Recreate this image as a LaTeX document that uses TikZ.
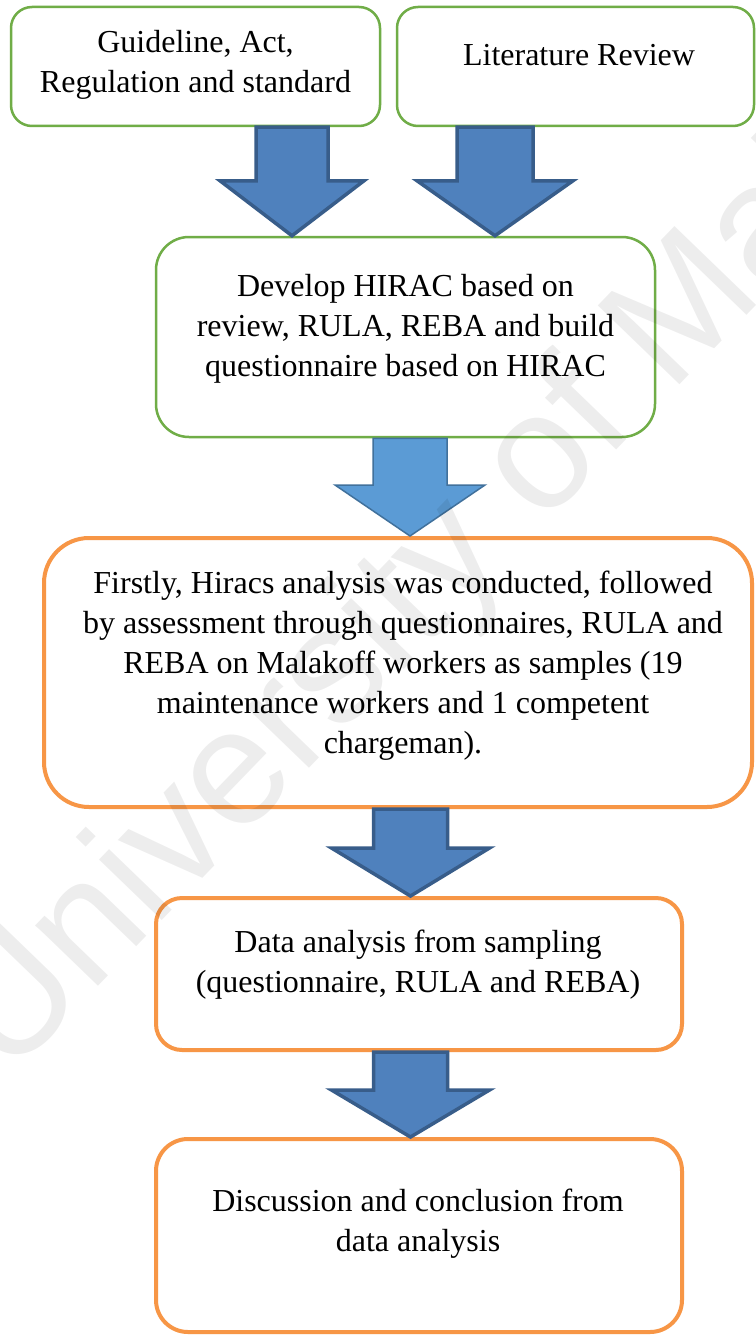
\documentclass[tikz,border=0pt]{standalone}
\usepackage{fontspec}
\setmainfont{Liberation Serif}
\newfontfamily\wmfont{Liberation Sans}
\usetikzlibrary{calc}

\definecolor{boxgreen}{HTML}{70AD47}
\definecolor{boxorange}{HTML}{F79646}
\definecolor{arrowfill}{HTML}{4F81BD}
\definecolor{arrowline}{HTML}{385D8A}
\definecolor{arrowfilllight}{HTML}{5B9BD5}
\definecolor{arrowlinelight}{HTML}{41719C}

% block arrow: #1 style, #2 top centre, #3 tip, #4 half body width,
% #5 half head width, #6 head length
\newcommand{\blockarrow}[6]{%
  \draw[#1] ($(#2)+(-#4,0)$) -- ($(#2)+(#4,0)$) -- ($(#3)+(#4,-#6)$)
    -- ($(#3)+(#5,-#6)$) -- (#3) -- ($(#3)+(-#5,-#6)$)
    -- ($(#3)+(-#4,-#6)$) -- cycle;}

\tikzset{
  greenbox/.style={draw=boxgreen, line width=2.5pt, fill=white, rectangle},
  orangebox/.style={draw=boxorange, line width=4pt, fill=white, rectangle},
  boxtext/.style={inner sep=0pt, align=center, font=\fontsize{32}{40}\selectfont},
  darrow/.style={fill=arrowfill, draw=arrowline, line width=3.5pt, line join=miter},
  larrow/.style={fill=arrowfilllight, draw=arrowlinelight, line width=1.5pt, line join=miter},
}

\begin{document}
\begin{tikzpicture}[x=1pt, y=-1pt]
\useasboundingbox (0,0) rectangle (755,1335);
\fill[white] (0,0) rectangle (755,1335);

% boxes
\node[greenbox, minimum width=369pt, minimum height=119pt, rounded corners=21pt] (b1) at (195.5,66.5) {};
\node[greenbox, minimum width=357pt, minimum height=119pt, rounded corners=21pt] (b2) at (575.5,66.5) {};
\node[greenbox, minimum width=499pt, minimum height=200pt, rounded corners=33pt] (b3) at (405.5,337) {};
\node[orangebox, minimum width=708pt, minimum height=269pt, rounded corners=45pt] (b4) at (398,672.5) {};
\node[orangebox, minimum width=526pt, minimum height=152pt, rounded corners=26pt] (b5) at (419,974) {};
\node[orangebox, minimum width=526pt, minimum height=193pt, rounded corners=32pt] (b6) at (419,1235.5) {};

% texts
\node[boxtext] (t1) at (195.5,65) {\strut Guideline, Act,\\Regulation and standard\strut};
\node[boxtext] (t2) at (579,57.5) {\strut Literature Review\strut};
\node[boxtext] (t3) at (405.5,328) {\strut Develop HIRAC based on\\review, RULA, REBA and build\\questionnaire based on HIRAC\strut};
\node[boxtext] (t4) at (403,665) {\strut Firstly, Hiracs analysis was conducted, followed\\by assessment through questionnaires, RULA and\\REBA on Malakoff workers as samples (19\\maintenance workers and 1 competent\\chargeman).\strut};
\node[boxtext] (t5) at (418,964) {\strut Data analysis from sampling\\(questionnaire, RULA and REBA)\strut};
\node[boxtext] (t6) at (418,1223) {\strut Discussion and conclusion from\\data analysis\strut};

% arrow end points
\path (b1.south) ++(96.5,0) coordinate (a1s);
\coordinate (a1e) at (a1s |- b3.north);
\path (b2.south) ++(-80.5,0) coordinate (a2s);
\coordinate (a2e) at (a2s |- b3.north);
\path (b3.south) ++(4.5,0) coordinate (a3s);
\coordinate (a3e) at (a3s |- b4.north);
\path (b4.south) ++(12.5,0) coordinate (a4s);
\coordinate (a4e) at (a4s |- b5.north);
\path (b5.south) ++(-8.5,0) coordinate (a5s);
\coordinate (a5e) at (a5s |- b6.north);

% arrows
\blockarrow{darrow}{a1s}{a1e}{36}{72}{55}
\blockarrow{darrow}{a2s}{a2e}{38}{78}{55}
\blockarrow{larrow}{a3s}{a3e}{37}{75}{51}
\blockarrow{darrow}{a4s}{a4e}{37}{79}{48}
\blockarrow{darrow}{a5s}{a5e}{37}{79}{47}

% faint diagonal watermark
\begin{scope}
\clip (0,0) rectangle (755,1335);
\node[rotate=46, anchor=base west, inner sep=0pt, text=black, text opacity=0.07,
      font=\wmfont\fontsize{165}{165}\selectfont] (wm) at (8,1080) {University of Malaya};
\end{scope}
\end{tikzpicture}
\end{document}
